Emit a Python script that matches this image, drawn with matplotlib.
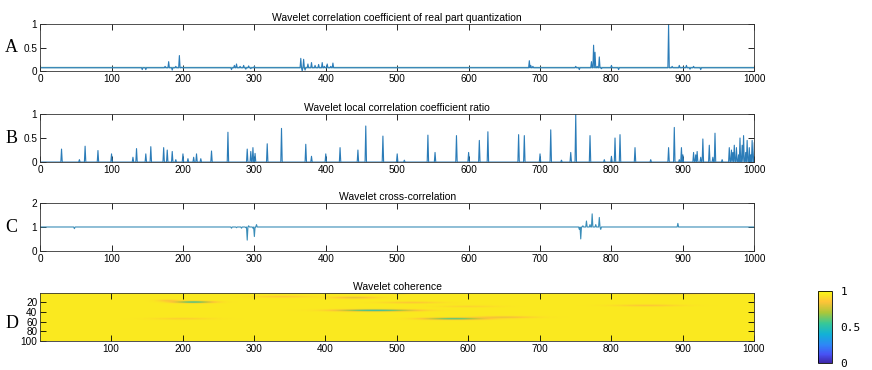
import numpy as np
import matplotlib
matplotlib.use('Agg')
import matplotlib.pyplot as plt
from matplotlib.colors import LinearSegmentedColormap

plt.rcParams['font.family'] = ['Liberation Sans', 'DejaVu Sans']

x = np.arange(0, 1001)

# A - real part quantization: baseline + (position, value) spikes
baseA = 0.07
refA = 0.085
spikesA_pos = [143, 148, 175, 180, 185, 190, 195, 198, 268, 272, 275, 280, 285, 288, 292, 295, 300,
               365, 367, 369, 371, 375, 380, 385, 390, 395, 398, 402, 407, 410, 685, 687, 690,
               750, 755, 772, 775, 777, 780, 783, 786, 800, 810, 880, 885, 895, 900, 905, 910, 915, 925]
spikesA_val = [0.03, 0.03, 0.1, 0.2, 0.02, 0.1, 0.33, 0.08, 0.03, 0.12, 0.15, 0.1, 0.12, 0.04, 0.11, 0.05, 0.1,
               0.27, 0.0, 0.25, 0.02, 0.15, 0.18, 0.12, 0.14, 0.18, 0.1, 0.15, 0.1, 0.17, 0.22, 0.12, 0.1,
               0.1, 0.03, 0.2, 0.55, 0.4, 0.1, 0.3, 0.05, 0.12, 0.03, 1.0, 0.1, 0.12, 0.08, 0.12, 0.04, 0.1, 0.03]

# B - local correlation coefficient ratio
spikesB_pos = [30, 55, 63, 81, 100, 130, 135, 148, 155, 173, 178, 185, 190, 200, 207, 215, 219, 225,
               240, 263, 290, 295, 298, 301, 318, 338, 372, 380, 400, 420, 445, 456, 480, 500, 510,
               543, 553, 583, 600, 615, 627, 670, 678, 700, 715, 730, 743, 750, 770, 790, 800, 805,
               812, 833, 855, 880, 888, 895, 898, 900, 915, 918, 920, 925, 928, 937, 942, 945, 955,
               965, 968, 970, 972, 975, 978, 980, 983, 985, 988, 990, 993, 995, 997, 1000]
spikesB_val = [0.27, 0.05, 0.33, 0.24, 0.17, 0.1, 0.28, 0.17, 0.32, 0.3, 0.25, 0.22, 0.05, 0.17, 0.07, 0.1, 0.17, 0.07,
               0.23, 0.62, 0.27, 0.22, 0.3, 0.18, 0.38, 0.7, 0.37, 0.12, 0.17, 0.3, 0.25, 0.75, 0.54, 0.17, 0.04,
               0.56, 0.2, 0.55, 0.2, 0.45, 0.63, 0.57, 0.55, 0.17, 0.67, 0.04, 0.2, 1.0, 0.55, 0.05, 0.12, 0.5,
               0.57, 0.3, 0.05, 0.3, 0.72, 0.05, 0.3, 0.15, 0.2, 0.15, 0.22, 0.1, 0.48, 0.35, 0.1, 0.6, 0.05,
               0.3, 0.25, 0.2, 0.35, 0.3, 0.15, 0.5, 0.35, 0.55, 0.2, 0.45, 0.3, 0.15, 0.45, 0.4]

# C - cross-correlation
baseC = 1.0
spikesC_pos = [48, 268, 275, 282, 288, 290, 292, 298, 300, 303, 755, 757, 760, 765, 770, 773, 778, 783, 785, 893]
spikesC_val = [0.93, 0.95, 0.97, 0.95, 0.97, 0.45, 1.05, 0.95, 0.6, 1.1, 0.9, 0.5, 1.05, 1.25, 1.1, 1.55, 1.1, 1.4, 0.9, 1.15]

# D - coherence streaks: x centre, scale centre, half length, value
cohBase = 0.95
streak_x = [215, 180, 340, 440, 470, 505, 520, 580, 650, 200, 880, 850, 600]
streak_y = [21, 18, 10, 12, 38, 2, 22, 55, 52, 55, 3, 28, 30]
streak_len = [25, 15, 40, 30, 50, 12, 40, 40, 40, 40, 40, 45, 40]
streak_val = [0.5, 0.84, 0.85, 0.78, 0.45, 0.5, 0.85, 0.52, 0.8, 0.87, 0.68, 0.85, 0.89]

parula = LinearSegmentedColormap.from_list('parula', [
    (0.00, (0.2422, 0.1504, 0.6603)), (0.12, (0.2810, 0.3228, 0.9579)),
    (0.25, (0.1786, 0.5289, 0.9682)), (0.40, (0.0689, 0.6948, 0.8394)),
    (0.55, (0.2161, 0.7843, 0.5923)), (0.70, (0.6720, 0.7793, 0.2227)),
    (0.85, (0.9970, 0.7659, 0.2199)), (1.00, (0.9769, 0.9839, 0.0805))])

sigA = np.full(x.shape, baseA)
sigA[spikesA_pos] = spikesA_val
sigB = np.zeros(x.shape)
sigB[spikesB_pos] = spikesB_val
sigC = np.full(x.shape, baseC)
sigC[spikesC_pos] = spikesC_val

xx, yy = np.meshgrid(np.arange(1, 1001), np.arange(1, 101))
coh = np.full(xx.shape, cohBase)
for sx, sy, sl, sv in zip(streak_x, streak_y, streak_len, streak_val):
    w = np.exp(-((xx - sx) / sl) ** 2 - ((yy - sy) / 1.8) ** 2)
    coh = coh - (cohBase - sv) * w

fig = plt.figure(figsize=(8.72, 3.70), dpi=100)
lc = '#2b7cb8'
left, width = 0.046, 0.819

def style(ax, title):
    ax.tick_params(direction='in', top=True, right=True, labelsize=7.2, length=4, width=0.6, pad=2)
    for s in ax.spines.values():
        s.set_linewidth(0.6)
        s.set_color('#333333')
    ax.set_title(title, fontsize=7.5, pad=2)

axA = fig.add_axes([left, 0.808, width, 0.127])
axA.plot(x, np.full(x.shape, refA), color='#86bfb4', lw=1.0)
axA.plot(x, sigA, color=lc, lw=0.8)
axA.set_xlim(0, 1000)
axA.set_ylim(0, 1)
axA.set_yticks([0, 0.5, 1])
axA.set_yticklabels(['0', '0.5', '1'])
axA.set_xticks(range(0, 1001, 100))
style(axA, 'Wavelet correlation coefficient of real part quantization')

axB = fig.add_axes([left, 0.562, width, 0.130])
axB.plot(x, sigB, color=lc, lw=0.8)
axB.set_xlim(0, 1000)
axB.set_ylim(0, 1)
axB.set_yticks([0, 0.5, 1])
axB.set_yticklabels(['0', '0.5', '1'])
axB.set_xticks(range(0, 1001, 100))
style(axB, 'Wavelet local correlation coefficient ratio')

axC = fig.add_axes([left, 0.322, width, 0.129])
axC.plot(x, sigC, color='#3a8db8', lw=0.8)
axC.set_xlim(0, 1000)
axC.set_ylim(0, 2)
axC.set_yticks([0, 1, 2])
axC.set_xticks(range(0, 1001, 100))
style(axC, 'Wavelet cross-correlation')

axD = fig.add_axes([left, 0.078, width, 0.130])
im = axD.imshow(coh, cmap=parula, vmin=0, vmax=1, aspect='auto',
                extent=[0.5, 1000.5, 100.5, 0.5], interpolation='bilinear')
axD.set_yticks([20, 40, 60, 80, 100])
axD.set_xticks(range(100, 1001, 100))
style(axD, 'Wavelet coherence')

cax = fig.add_axes([0.938, 0.019, 0.016, 0.195])
cb = fig.colorbar(im, cax=cax, ticks=[0, 0.5, 1])
cb.ax.set_yticklabels(['0', '0.5', '1'], family='DejaVu Sans Mono', fontsize=8)
cb.ax.tick_params(length=0, pad=6)
cb.outline.set_linewidth(0.6)

for lab, yp in zip(['A', 'B', 'C', 'D'], [0.872, 0.627, 0.385, 0.127]):
    fig.text(0.006, yp, lab, family='Liberation Serif', fontsize=13, va='center')

fig.savefig('out.png', dpi=100)
